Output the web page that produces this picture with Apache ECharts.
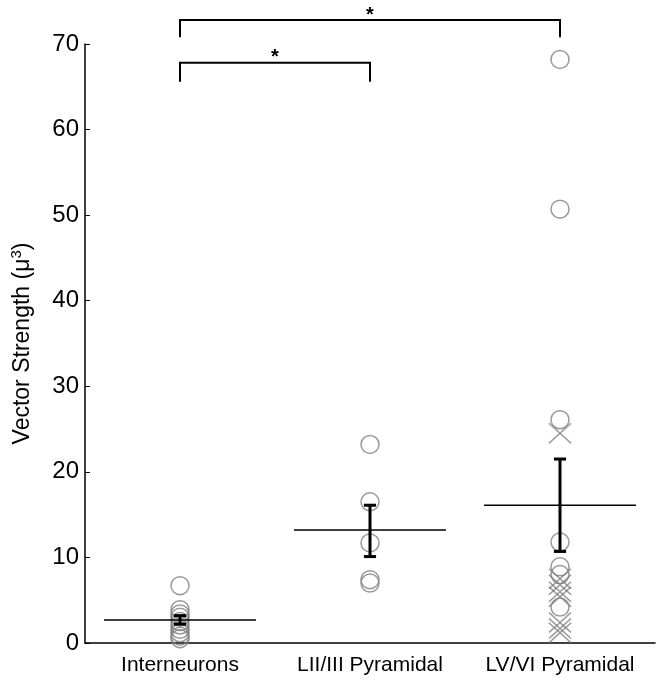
<!DOCTYPE html>
<html>
<head>
<meta charset="utf-8">
<script src="https://cdn.jsdelivr.net/npm/echarts@6/dist/echarts.min.js"></script>
<style>html,body{margin:0;padding:0;background:#fff}#c{width:662px;height:689px}</style>
</head>
<body>
<div id="c"></div>
<script>
// ---- data ----
const categories = ['Interneurons', 'LII/III Pyramidal', 'LV/VI Pyramidal'];
const interneuronCircles = [6.7, 3.9, 3.4, 3.0, 2.5, 2.1, 1.6, 1.2, 0.8, 0.5];
const l23Circles = [23.2, 16.5, 11.7, 7.4, 7.0];
const l56Circles = [68.2, 50.7, 26.1, 11.8, 8.9, 8.0, 4.2];
const l56Crosses = [24.5, 7.5, 6.8, 6.0, 5.4, 2.4, 1.7, 1.2];
const meanValues = [2.7, 13.2, 16.1];
const semLow = [2.2, 10.1, 10.7];
const semHigh = [3.2, 16.1, 21.5];
const yTicks = [0, 10, 20, 30, 40, 50, 60, 70];
// significance brackets: [fromIndex, toIndex, barValue, legValue, label]
const brackets = [[0, 2, 72.8, 70.8, '*'], [0, 1, 67.8, 65.6, '*']];

const FONT = 'Liberation Sans, Arial, Helvetica, sans-serif';
const GREY = '#7f7f7f';

const circleData = [];
interneuronCircles.forEach(v => circleData.push([0, v]));
l23Circles.forEach(v => circleData.push([1, v]));
l56Circles.forEach(v => circleData.push([2, v]));
const crossData = l56Crosses.map(v => [2, v]);
const meanData = meanValues.map((m, i) => [i, m, semLow[i], semHigh[i]]);

const chart = echarts.init(document.getElementById('c'), null, {renderer: 'canvas'});
chart.setOption({
  animation: false,
  backgroundColor: '#fff',
  grid: {left: 85, right: 7, top: 44, bottom: 46, containLabel: false},
  xAxis: {
    type: 'category',
    data: categories,
    boundaryGap: true,
    axisLine: {lineStyle: {color: '#000', width: 1.5}},
    axisTick: {inside: true, alignWithLabel: true, length: 5, lineStyle: {color: '#000', width: 1}},
    axisLabel: {color: '#000', fontFamily: FONT, fontSize: 21, margin: 12, interval: 0, hideOverlap: false},
    splitLine: {show: false}
  },
  yAxis: {
    type: 'value',
    min: yTicks[0], max: yTicks[yTicks.length - 1], interval: 10,
    name: 'Vector Strength (μ{sup|3})',
    nameLocation: 'middle',
    nameGap: 48,
    nameRotate: 90,
    nameTextStyle: {color: '#000', fontFamily: FONT, fontSize: 23,
      rich: {sup: {fontSize: 15, fontFamily: FONT, color: '#000', verticalAlign: 'bottom', padding: [0, 0, 13, 0]}}},
    axisLine: {show: true, lineStyle: {color: '#000', width: 1.5}},
    axisTick: {show: true, inside: true, length: 5, lineStyle: {color: '#000', width: 1}},
    axisLabel: {color: '#000', fontFamily: FONT, fontSize: 24, margin: 6},
    splitLine: {show: false}
  },
  series: [
    {
      type: 'scatter', data: circleData, symbol: 'circle', symbolSize: 18,
      itemStyle: {color: 'rgba(0,0,0,0)', borderColor: GREY, borderWidth: 1.5}, z: 2
    },
    {
      type: 'scatter', data: crossData, symbol: 'path://M0,0L20,20M20,0L0,20', symbolSize: [22, 20],
      symbolKeepAspect: false,
      itemStyle: {color: 'rgba(0,0,0,0)', borderColor: GREY, borderWidth: 1.5}, z: 2
    },
    {
      type: 'custom', data: meanData, z: 5,
      encode: {x: 0, y: 1},
      renderItem: function (params, api) {
        const i = api.value(0);
        const c = api.coord([i, api.value(1)]);
        const lo = api.coord([i, api.value(2)]);
        const hi = api.coord([i, api.value(3)]);
        const band = api.size([1, 0])[0];
        const half = band * 0.4, cap = band * 0.032;
        return {type: 'group', children: [
          {type: 'line', shape: {x1: c[0] - half, y1: c[1], x2: c[0] + half, y2: c[1]}, style: {stroke: '#000', lineWidth: 1.5}},
          {type: 'line', shape: {x1: c[0], y1: lo[1], x2: c[0], y2: hi[1]}, style: {stroke: '#000', lineWidth: 3}},
          {type: 'line', shape: {x1: c[0] - cap, y1: lo[1], x2: c[0] + cap, y2: lo[1]}, style: {stroke: '#000', lineWidth: 3}},
          {type: 'line', shape: {x1: c[0] - cap, y1: hi[1], x2: c[0] + cap, y2: hi[1]}, style: {stroke: '#000', lineWidth: 3}}
        ]};
      }
    },
    {
      type: 'custom', data: brackets.map(b => [b[0], b[1], b[2], b[3]]), clip: false, z: 5,
      renderItem: function (params, api) {
        const a = api.coord([api.value(0), api.value(2)]);
        const b = api.coord([api.value(1), api.value(2)]);
        const legA = api.coord([api.value(0), api.value(3)]);
        return {type: 'group', children: [
          {type: 'polyline', shape: {points: [[a[0], legA[1]], [a[0], a[1]], [b[0], b[1]], [b[0], legA[1]]]},
            style: {stroke: '#000', lineWidth: 2, fill: null}},
          {type: 'text', x: (a[0] + b[0]) / 2, y: a[1] - 5,
            style: {text: brackets[params.dataIndex][4], fill: '#000', fontFamily: FONT, fontSize: 20, fontWeight: 'bold', align: 'center', verticalAlign: 'middle'}}
        ]};
      }
    }
  ]
});
</script>
</body>
</html>
